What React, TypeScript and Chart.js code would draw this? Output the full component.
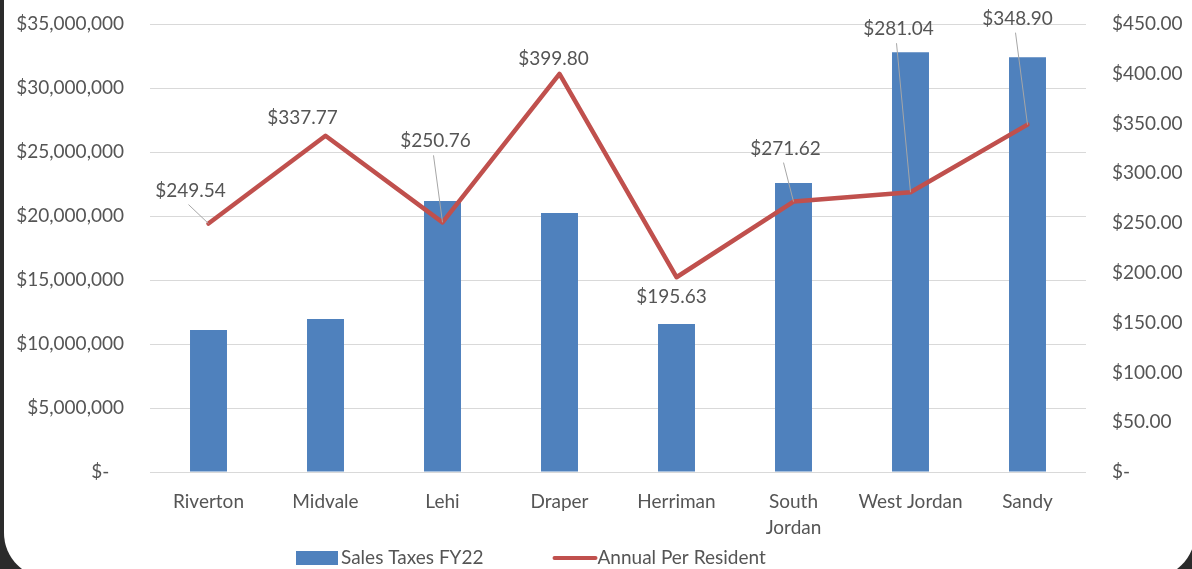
import React, { useEffect, useRef } from 'react';
import { Chart, registerables } from 'chart.js';

Chart.register(...registerables);

const categories: (string | string[])[] = ['Riverton', 'Midvale', 'Lehi', 'Draper', 'Herriman', ['South', 'Jordan'], 'West Jordan', 'Sandy'];
const salesTaxes = [11090000, 11950000, 21170000, 20230000, 11560000, 22580000, 32800000, 32400000];
const perResident = [249.54, 337.77, 250.76, 399.8, 195.63, 271.62, 281.04, 348.9];
const seriesNames = ['Sales Taxes FY22', 'Annual Per Resident'];
// label placement relative to each line point (px) and whether a leader line is drawn
const labelOffsets: [number, number][] = [[-18, -33], [-23, -18], [-7, -81], [-6, -15], [-5, 20], [-8, -53], [-12, -163], [-10, -106]];
const leaderShown = [true, false, true, false, false, true, true, true];

const FONT = 'Lato, "Noto Sans", sans-serif';
const TEXT = '#555555';
const BLUE = '#4f81bd';
const RED = '#c0504d';
const GRID = '#d9d9d9';

const fmtMoney = (v: number) => (v === 0 ? '$-   ' : '$' + v.toLocaleString('en-US'));
const fmtRes = (v: number) => (v === 0 ? '$-' : '$' + v.toFixed(2));

const dataLabelPlugin = {
  id: 'dataLabels',
  afterDatasetsDraw(chart: any) {
    const meta = chart.getDatasetMeta(1);
    const ctx = chart.ctx;
    ctx.save();
    meta.data.forEach((el: any, i: number) => {
      const [dx, dy] = labelOffsets[i];
      const lx = el.x + dx;
      const ly = el.y + dy;
      if (leaderShown[i]) {
        ctx.strokeStyle = '#a6a6a6';
        ctx.lineWidth = 1;
        ctx.beginPath();
        ctx.moveTo(lx - 2, ly + 14);
        ctx.lineTo(el.x, el.y);
        ctx.stroke();
      }
      ctx.font = `19px ${FONT}`;
      ctx.fillStyle = TEXT;
      ctx.textAlign = 'center';
      ctx.textBaseline = 'middle';
      ctx.fillText(fmtRes(perResident[i]), lx, ly);
    });
    ctx.restore();
  },
};

const legendPlugin = {
  id: 'customLegend',
  afterDraw(chart: any) {
    const ctx = chart.ctx;
    ctx.save();
    ctx.font = `19px ${FONT}`;
    ctx.fillStyle = TEXT;
    ctx.textBaseline = 'middle';
    ctx.textAlign = 'left';
    const y = 558;
    let x = 296;
    ctx.fillStyle = BLUE;
    ctx.fillRect(x, y - 7, 42, 14);
    x += 45;
    ctx.fillStyle = TEXT;
    ctx.fillText(seriesNames[0], x, y);
    x += ctx.measureText(seriesNames[0]).width + 71;
    ctx.strokeStyle = RED;
    ctx.lineWidth = 4;
    ctx.lineCap = 'round';
    ctx.beginPath();
    ctx.moveTo(x, y);
    ctx.lineTo(x + 41, y);
    ctx.stroke();
    x += 43;
    ctx.fillText(seriesNames[1], x, y);
    ctx.restore();
  },
};

export default function App() {
  const ref = useRef<HTMLCanvasElement | null>(null);
  useEffect(() => {
    document.body.style.margin = '0';
    if (!ref.current) return;
    const chart = new Chart(ref.current, {
      type: 'bar',
      data: {
        labels: categories as any,
        datasets: [
          {
            type: 'bar',
            label: seriesNames[0],
            data: salesTaxes,
            backgroundColor: BLUE,
            yAxisID: 'y',
            categoryPercentage: 1,
            barPercentage: 0.316,
            order: 1,
          },
          {
            type: 'line',
            label: seriesNames[1],
            data: perResident,
            borderColor: RED,
            backgroundColor: RED,
            borderWidth: 4.5,
            pointRadius: 0,
            tension: 0,
            borderJoinStyle: 'round',
            borderCapStyle: 'round',
            yAxisID: 'y1',
            order: 0,
          } as any,
        ],
      },
      options: {
        responsive: false,
        animation: false,
        devicePixelRatio: 1,
        layout: { padding: { top: 24, bottom: 24, left: 0, right: 0 } },
        plugins: {
          legend: { display: false },
          tooltip: { enabled: false },
        },
        scales: {
          x: {
            grid: { display: false },
            border: { display: false },
            ticks: {
              color: TEXT,
              font: { family: FONT, size: 19, lineHeight: 1.35 },
              padding: 9,
              maxRotation: 0,
              autoSkip: false,
            },
            afterFit(scale: any) {
              scale.height = 73;
              scale.paddingLeft = 0;
              scale.paddingRight = 0;
            },
          },
          y: {
            position: 'left',
            min: 0,
            max: 35000000,
            grid: { color: GRID, lineWidth: 1, drawTicks: false },
            border: { display: false },
            ticks: {
              stepSize: 5000000,
              color: TEXT,
              font: { family: FONT, size: 19 },
              padding: 26,
              callback: (v: any) => fmtMoney(Number(v)),
            },
            afterFit(scale: any) {
              scale.width = 150;
              scale.paddingTop = 0;
              scale.paddingBottom = 0;
            },
          },
          y1: {
            position: 'right',
            min: 0,
            max: 450,
            grid: { display: false, drawTicks: false },
            border: { display: false },
            ticks: {
              stepSize: 50,
              color: TEXT,
              font: { family: FONT, size: 19 },
              padding: 26,
              callback: (v: any) => fmtRes(Number(v)),
            },
            afterFit(scale: any) {
              scale.width = 106;
              scale.paddingTop = 0;
              scale.paddingBottom = 0;
            },
          },
        },
      } as any,
      plugins: [dataLabelPlugin, legendPlugin],
    });
    return () => chart.destroy();
  }, []);

  return (
    <div style={{ position: 'relative', width: 1192, height: 569, background: '#2b2b2b', overflow: 'hidden' }}>
      <div
        style={{
          position: 'absolute',
          left: 4,
          top: -60,
          width: 1191,
          height: 638,
          background: '#ffffff',
          borderRadius: 45,
        }}
      />
      <canvas ref={ref} width={1192} height={569} style={{ position: 'absolute', left: 0, top: 0, width: 1192, height: 569 }} />
    </div>
  );
}
